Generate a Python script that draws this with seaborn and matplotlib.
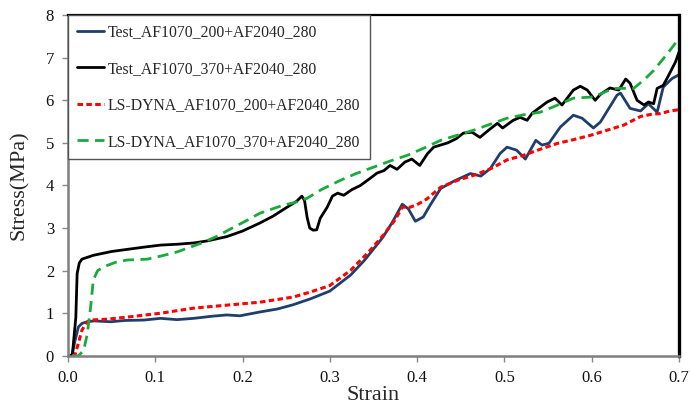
import matplotlib
matplotlib.use("Agg")
import matplotlib.pyplot as plt
import seaborn as sns
import pandas as pd
from matplotlib.lines import Line2D

# ---- data ----
labels = ["Test_AF1070_200+AF2040_280", "Test_AF1070_370+AF2040_280",
          "LS-DYNA_AF1070_200+AF2040_280", "LS-DYNA_AF1070_370+AF2040_280"]

test200_x = [0.003, 0.005, 0.008, 0.012, 0.016, 0.022, 0.03, 0.049, 0.065, 0.087, 0.106, 0.125,
             0.144, 0.165, 0.182, 0.197, 0.22, 0.24, 0.258, 0.278, 0.3, 0.324, 0.34, 0.361, 0.372,
             0.383, 0.39, 0.398, 0.407, 0.415, 0.427, 0.442, 0.461, 0.473, 0.484, 0.495, 0.503,
             0.514, 0.524, 0.536, 0.543, 0.551, 0.564, 0.579, 0.589, 0.602, 0.61, 0.629, 0.633,
             0.644, 0.656, 0.665, 0.675, 0.682, 0.692, 0.7]
test200_y = [0.0, 0.05, 0.35, 0.68, 0.76, 0.80, 0.82, 0.80, 0.83, 0.84, 0.88, 0.85,
             0.88, 0.93, 0.96, 0.94, 1.03, 1.10, 1.20, 1.34, 1.52, 1.90, 2.25, 2.79, 3.15,
             3.56, 3.45, 3.16, 3.26, 3.54, 3.93, 4.10, 4.28, 4.22, 4.40, 4.75, 4.90,
             4.83, 4.62, 5.06, 4.95, 4.99, 5.37, 5.65, 5.58, 5.35, 5.49, 6.12, 6.17,
             5.81, 5.75, 5.92, 5.72, 6.31, 6.51, 6.60]

test370_x = [0.003, 0.005, 0.009, 0.0105, 0.013, 0.016, 0.029, 0.05, 0.068, 0.09, 0.106, 0.125,
             0.144, 0.16, 0.182, 0.2, 0.22, 0.235, 0.251, 0.262, 0.268, 0.271, 0.274, 0.277,
             0.281, 0.285, 0.289, 0.297, 0.303, 0.309, 0.316, 0.325, 0.335, 0.345, 0.354, 0.362,
             0.369, 0.377, 0.386, 0.394, 0.403, 0.412, 0.419, 0.435, 0.445, 0.453, 0.463, 0.472,
             0.482, 0.492, 0.498, 0.51, 0.518, 0.526, 0.532, 0.549, 0.558, 0.566, 0.579, 0.587,
             0.595, 0.604, 0.61, 0.621, 0.631, 0.639, 0.644, 0.652, 0.66, 0.665, 0.671, 0.675,
             0.682, 0.688, 0.696, 0.7]
test370_y = [0.0, 0.02, 0.9, 1.93, 2.18, 2.27, 2.36, 2.45, 2.50, 2.56, 2.60, 2.62,
             2.65, 2.70, 2.80, 2.93, 3.12, 3.28, 3.49, 3.63, 3.75, 3.65, 3.25, 3.00,
             2.95, 2.96, 3.23, 3.49, 3.75, 3.82, 3.77, 3.90, 4.00, 4.15, 4.29, 4.35,
             4.47, 4.38, 4.55, 4.62, 4.47, 4.75, 4.90, 5.00, 5.10, 5.23, 5.25, 5.13,
             5.30, 5.46, 5.35, 5.53, 5.60, 5.53, 5.70, 5.96, 6.05, 5.89, 6.24, 6.33,
             6.24, 6.00, 6.14, 6.29, 6.24, 6.50, 6.40, 6.00, 5.89, 5.96, 5.92, 6.28,
             6.35, 6.58, 6.90, 7.13]

dyna200_x = [0.005, 0.008, 0.012, 0.016, 0.021, 0.026, 0.045, 0.068, 0.106, 0.144, 0.182, 0.22,
             0.258, 0.278, 0.3, 0.324, 0.345, 0.362, 0.375, 0.383, 0.392, 0.4, 0.411, 0.427,
             0.446, 0.465, 0.485, 0.503, 0.522, 0.541, 0.561, 0.58, 0.599, 0.618, 0.637, 0.656,
             0.668, 0.679, 0.69, 0.7]
dyna200_y = [0.0, 0.02, 0.30, 0.60, 0.78, 0.84, 0.86, 0.91, 1.00, 1.12, 1.19, 1.26,
             1.38, 1.50, 1.65, 2.01, 2.45, 2.85, 3.20, 3.49, 3.49, 3.55, 3.68, 3.96,
             4.12, 4.24, 4.40, 4.60, 4.71, 4.85, 4.99, 5.08, 5.18, 5.30, 5.42, 5.62,
             5.67, 5.69, 5.75, 5.78]

dyna370_x = [0.005, 0.012, 0.018, 0.022, 0.026, 0.029, 0.034, 0.041, 0.055, 0.068, 0.091, 0.108,
             0.125, 0.152, 0.17, 0.19, 0.205, 0.22, 0.247, 0.26, 0.274, 0.29, 0.312, 0.33,
             0.35, 0.37, 0.389, 0.408, 0.427, 0.446, 0.465, 0.484, 0.503, 0.522, 0.541, 0.56,
             0.579, 0.602, 0.625, 0.648, 0.66, 0.671, 0.685, 0.7]
dyna370_y = [0.0, 0.0, 0.13, 0.50, 1.15, 1.78, 2.00, 2.09, 2.20, 2.25, 2.27, 2.35,
             2.44, 2.64, 2.80, 3.02, 3.18, 3.35, 3.54, 3.60, 3.70, 3.90, 4.12, 4.28,
             4.43, 4.58, 4.71, 4.88, 5.06, 5.18, 5.30, 5.44, 5.58, 5.66, 5.72, 5.88,
             6.05, 6.08, 6.28, 6.28, 6.48, 6.70, 7.05, 7.45]

x_ticks = [0.0, 0.1, 0.2, 0.3, 0.4, 0.5, 0.6, 0.7]
x_tick_labels = ["0.0", "0.1", "0.2", "0.3", "0.4", "0.5", "0.6", "0.7"]
y_ticks = [0, 1, 2, 3, 4, 5, 6, 7, 8]

# ---- styling ----
sns.set_theme(style="white")
plt.rcParams["font.family"] = ["Liberation Serif", "DejaVu Serif"]

fig = plt.figure(figsize=(6.9, 4.09), dpi=100)
ax = fig.add_axes([0.0985, 0.13, 0.8855, 0.833])

series = [
    (test200_x, test200_y, labels[0], "#1f3e6b", "-", 2.0),
    (test370_x, test370_y, labels[1], "#000000", "-", 2.0),
    (dyna200_x, dyna200_y, labels[2], "#ff0000", (0, (1.8, 1.1)), 2.2),
    (dyna370_x, dyna370_y, labels[3], "#1aaa3c", (0, (4.0, 2.3)), 2.0),
]

handles = []
for xs, ys, lab, col, ls, lw in series:
    df = pd.DataFrame({"Strain": xs, "Stress": ys})
    sns.lineplot(data=df, x="Strain", y="Stress", ax=ax, color=col, linestyle=ls,
                 linewidth=lw, estimator=None, sort=False)
    handles.append(Line2D([0], [0], color=col, linestyle=ls, linewidth=lw))

ax.set_xlim(0, 0.7)
ax.set_ylim(0, 8)
ax.set_xticks(x_ticks)
ax.set_xticklabels(x_tick_labels)
ax.set_yticks(y_ticks)

ax.tick_params(axis="both", which="major", labelsize=12, direction="out",
               length=4, width=1, color="#888888", bottom=True, left=True,
               labelcolor="#111111", pad=6)
ax.set_xlabel("Strain", fontsize=16, labelpad=0)
ax.set_ylabel("Stress(MPa)", fontsize=16, labelpad=12)

for side in ["left", "bottom"]:
    ax.spines[side].set_color("#7f7f7f")
    ax.spines[side].set_linewidth(1.8)
ax.spines["top"].set_color("#000000")
ax.spines["top"].set_linewidth(1.6)
ax.spines["right"].set_color("#000000")
ax.spines["right"].set_linewidth(2.4)

leg = ax.legend(handles, labels, loc="upper left", bbox_to_anchor=(0, 1),
                borderaxespad=0, fontsize=11.3, frameon=True, fancybox=False,
                edgecolor="#555555", framealpha=1, labelspacing=1.3,
                handlelength=1.7, handletextpad=0.25, borderpad=0.6)
leg.get_frame().set_linewidth(1.0)

fig.savefig("out.png", dpi=100)
